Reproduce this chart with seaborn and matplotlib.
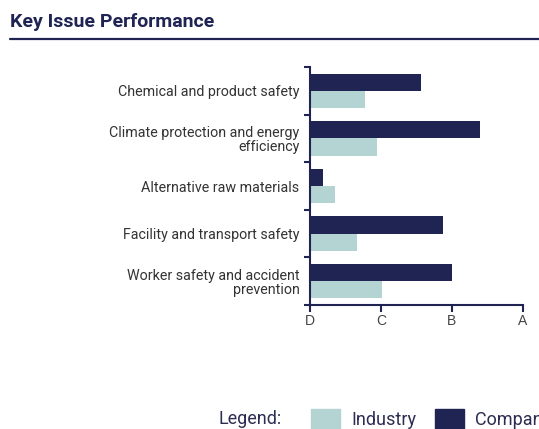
import numpy as np
import pandas as pd
import matplotlib
matplotlib.use("Agg")
import matplotlib.pyplot as plt
import matplotlib.patches as mpatches
from matplotlib.lines import Line2D
import seaborn as sns

# Data (D=0, C=1, B=2, A=3)
issues = [
    "Chemical and product safety",
    "Climate protection and energy\nefficiency",
    "Alternative raw materials",
    "Facility and transport safety",
    "Worker safety and accident\nprevention",
]
company = [1.57, 2.40, 0.18, 1.87, 2.00]
industry = [0.77, 0.94, 0.35, 0.66, 1.02]
grades = ["D", "C", "B", "A"]

navy = "#1f2452"
teal = "#b3d4d2"

df = pd.DataFrame({
    "issue": issues * 2,
    "score": company + industry,
    "who": ["Company"] * len(issues) + ["Industry"] * len(issues),
})

sns.set_style("white")
plt.rcParams["font.family"] = ["Roboto", "DejaVu Sans"]

fig = plt.figure(figsize=(5.39, 4.29), dpi=100)
ax = fig.add_axes([310 / 539, 1 - 305 / 429, 213 / 539, 238 / 429])

sns.barplot(data=df, y="issue", x="score", hue="who", orient="h",
            hue_order=["Company", "Industry"], palette=[navy, teal],
            width=0.72, ax=ax, legend=False, saturation=1, linewidth=0)

ax.set_xlim(0, 3)
ax.set_ylim(len(issues) - 0.5, -0.5)
ax.set_xticks(range(len(grades)))
ax.set_xticklabels(grades, fontsize=10, color="#444444", family="Liberation Sans")
ax.set_yticks(range(len(issues)))
ax.set_yticklabels(issues, fontsize=10.3, color="#333333", linespacing=1.0)
ax.set_yticks(np.arange(-0.5, len(issues)), minor=True)
ax.tick_params(axis="y", which="major", left=True, length=0, pad=7.5)
ax.tick_params(axis="y", which="minor", left=True, length=4, width=1.5,
               color=navy, direction="out")
ax.tick_params(axis="x", bottom=True, length=5, width=1.5, color=navy,
               direction="out", pad=1.5)
ax.set_xlabel("")
ax.set_ylabel("")

for side in ["top", "right"]:
    ax.spines[side].set_visible(False)
for side in ["left", "bottom"]:
    ax.spines[side].set_color(navy)
    ax.spines[side].set_linewidth(1.5)

# Title with rule underneath
fig.text(10 / 539, 1 - 22 / 429, "Key Issue Performance", fontsize=14,
         fontweight="bold", color=navy, va="center", ha="left")
fig.add_artist(Line2D([10 / 539, 1.0], [1 - 39 / 429] * 2, color=navy, lw=1.6))

# Legend at the bottom
fig.text(218 / 539, 1 - 419 / 429, "Legend:", fontsize=13, color="#2b2d52",
         va="center", ha="left")
handles = [mpatches.Patch(color=teal), mpatches.Patch(color=navy)]
fig.legend(handles, ["Industry", "Company"], ncol=2, frameon=False,
           loc="center left", bbox_to_anchor=(302 / 539, 1 - 419 / 429),
           borderpad=0, fontsize=13, labelcolor="#2b2d52", handlelength=1.6,
           handleheight=1.35, handletextpad=0.65, columnspacing=1.0)

plt.savefig("out.png", dpi=100)
